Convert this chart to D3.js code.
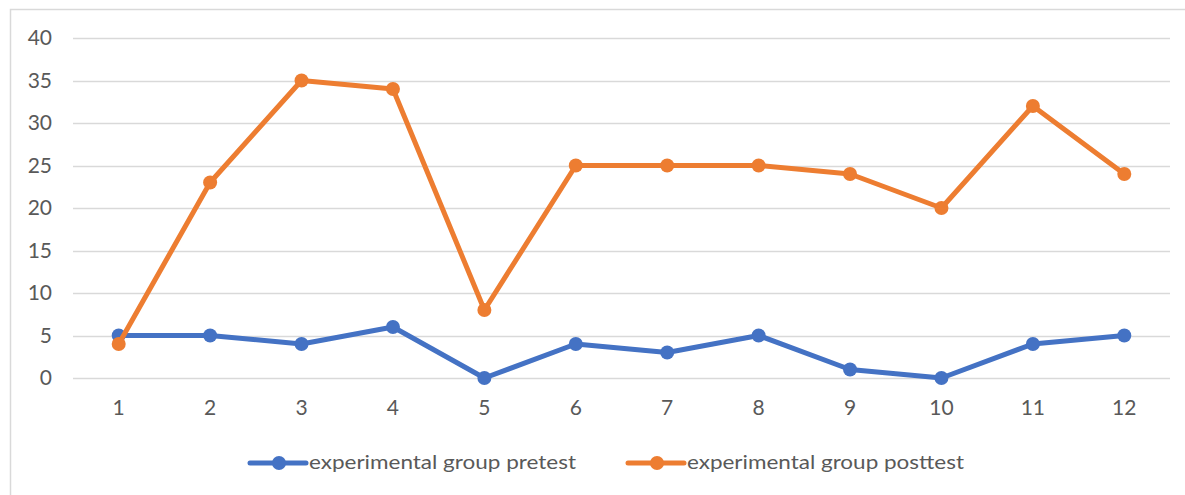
<!DOCTYPE html>
<html>
<head>
<meta charset="utf-8">
<script src="https://cdn.jsdelivr.net/npm/d3@7"></script>
<style>
  body { margin: 0; background: #fff; }
  text { font-family: Lato, "Open Sans", sans-serif; fill: #595959; }
</style>
</head>
<body>
<script>
// chart size
const width = 1185;
const height = 495;

// data
const categories = ["1", "2", "3", "4", "5", "6", "7", "8", "9", "10", "11", "12"];
const pretest = [5, 5, 4, 6, 0, 4, 3, 5, 1, 0, 4, 5];
const posttest = [4, 23, 35, 34, 8, 25, 25, 25, 24, 20, 32, 24];
const yTicks = [0, 5, 10, 15, 20, 25, 30, 35, 40];
const seriesNames = ["experimental group pretest", "experimental group posttest"];
const seriesColors = ["#4472C4", "#ED7D31"];

const svg = d3.select("body").append("svg")
  .attr("width", width)
  .attr("height", height);

// chart border
svg.append("rect")
  .attr("x", 10.5).attr("y", 9.5)
  .attr("width", width - 5).attr("height", height)
  .attr("fill", "none")
  .attr("stroke", "#d9d9d9")
  .attr("stroke-width", 1.5);

const x = d3.scaleBand().domain(categories).range([73, 1170]);
const y = d3.scaleLinear().domain([0, 40]).range([378, 38]);

// gridlines
svg.append("g")
  .selectAll("line")
  .data(yTicks)
  .enter().append("line")
  .attr("x1", 73).attr("x2", 1170)
  .attr("y1", (d) => Math.round(y(d)) + 0.5)
  .attr("y2", (d) => Math.round(y(d)) + 0.5)
  .attr("stroke", "#d9d9d9")
  .attr("stroke-width", 1.5);

// y axis labels
const yAxis = svg.append("g")
  .attr("transform", "translate(52,0)")
  .call(d3.axisLeft(y).tickValues(yTicks).tickSize(0).tickPadding(0));
yAxis.select(".domain").remove();
yAxis.selectAll("text").style("font-size", "21px").attr("fill", "#595959");

// x axis labels
const xAxis = svg.append("g")
  .attr("transform", "translate(0,378)")
  .call(d3.axisBottom(x).tickSize(0).tickPadding(22));
xAxis.select(".domain").remove();
xAxis.selectAll("text").style("font-size", "21px").attr("fill", "#595959");

const line = d3.line()
  .x((d, i) => x(categories[i]) + x.bandwidth() / 2)
  .y((d) => y(d));

[pretest, posttest].forEach((values, k) => {
  const g = svg.append("g");
  g.append("path")
    .datum(values)
    .attr("d", line)
    .attr("fill", "none")
    .attr("stroke", seriesColors[k])
    .attr("stroke-width", 5)
    .attr("stroke-linejoin", "round");
  g.selectAll("circle")
    .data(values)
    .enter().append("circle")
    .attr("cx", (d, i) => x(categories[i]) + x.bandwidth() / 2)
    .attr("cy", (d) => y(d))
    .attr("r", 7)
    .attr("fill", seriesColors[k]);
});

// legend
const legendX = [250, 628];
const legendTextLen = [267, 277];
seriesNames.forEach((name, k) => {
  const lg = svg.append("g").attr("transform", `translate(${legendX[k]},463)`);
  lg.append("line")
    .attr("x1", 0).attr("x2", 56)
    .attr("stroke", seriesColors[k])
    .attr("stroke-width", 5)
    .attr("stroke-linecap", "round");
  lg.append("circle").attr("cx", 29).attr("r", 7).attr("fill", seriesColors[k]);
  lg.append("text")
    .attr("x", 59)
    .attr("dy", "0.3em")
    .attr("textLength", legendTextLen[k])
    .attr("lengthAdjust", "spacingAndGlyphs")
    .style("font-size", "20px")
    .text(name);
});
</script>
</body>
</html>
